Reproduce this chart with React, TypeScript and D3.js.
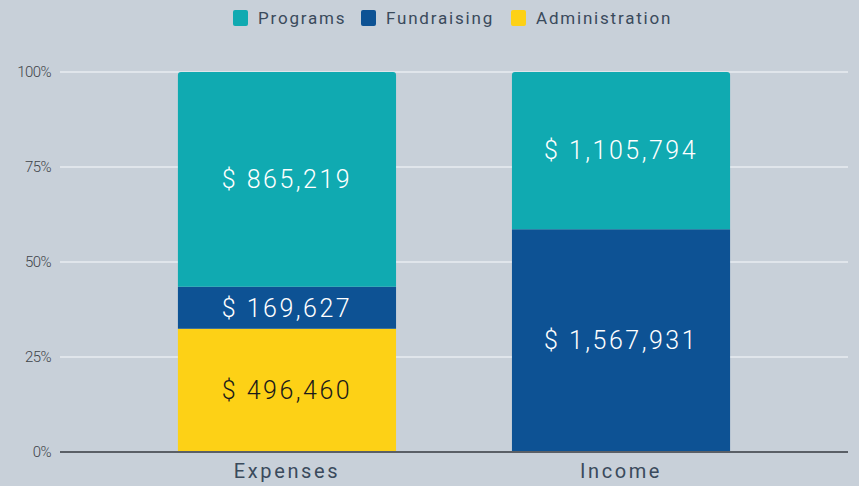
import React from "react";
import * as d3 from "d3";

const categories = ["Expenses", "Income"];
const seriesNames = ["Administration", "Fundraising", "Programs"];
const legendOrder = ["Programs", "Fundraising", "Administration"];
const administration = [496460, 0];
const fundraising = [169627, 1567931];
const programs = [865219, 1105794];
const yTicks = [0, 0.25, 0.5, 0.75, 1];

const colors: Record<string, string> = {
  Programs: "#10aab1",
  Fundraising: "#0d5294",
  Administration: "#fdd116",
};
const labelColors: Record<string, string> = {
  Programs: "#ffffff",
  Fundraising: "#ffffff",
  Administration: "#1a1a1a",
};

const W = 859;
const H = 486;
const M = { left: 60, right: 11, top: 72, bottom: 34 };
const FONT = "Roboto, 'DejaVu Sans', sans-serif";

export default function App() {
  const rows = categories.map((c, i) => ({
    category: c,
    Administration: administration[i],
    Fundraising: fundraising[i],
    Programs: programs[i],
  }));
  const stack = d3.stack<any>().keys(seriesNames).offset(d3.stackOffsetExpand);
  const series = stack(rows);

  const x = d3
    .scaleBand()
    .domain(categories)
    .range([M.left, W - M.right])
    .paddingInner(0.347)
    .paddingOuter(0.353);
  const y = d3.scaleLinear().domain([0, 1]).range([H - M.bottom, M.top]);
  const fmt = d3.format(",");

  const legendX: Record<string, number> = { Programs: 233, Fundraising: 361, Administration: 511 };

  return (
    <svg width={W} height={H} style={{ position: "absolute", left: 0, top: 0, background: "#c8d0d9" }}>
      <rect x={0} y={0} width={W} height={H} fill="#c8d0d9" />
      {/* legend */}
      {legendOrder.map((k) => (
        <g key={k}>
          <rect x={legendX[k]} y={10} width={15} height={16} rx={2} fill={colors[k]} />
          <text
            x={legendX[k] + 25}
            y={24}
            fontFamily={FONT}
            fontSize={17}
            fontWeight={400}
            letterSpacing={1.8}
            fill="#3a4a5c"
          >
            {k}
          </text>
        </g>
      ))}
      {/* gridlines + ticks */}
      {yTicks.map((t) => (
        <g key={t}>
          {t > 0 && (
            <line x1={M.left} x2={W - M.right} y1={y(t)} y2={y(t)} stroke="#e9edf1" strokeWidth={1.5} />
          )}
          <text
            x={51}
            y={y(t) + 5}
            textAnchor="end"
            fontFamily={FONT}
            fontSize={15}
            fontWeight={300}
            letterSpacing={-0.6}
            fill="#3f444a"
          >
            {d3.format(".0%")(t)}
          </text>
        </g>
      ))}
      {/* bars */}
      {series.map((s) => {
        const key = s.key;
        return s.map((d, i) => {
          const v = (d.data as any)[key];
          if (!v) return null;
          const x0 = x(categories[i])!;
          const yTop = y(d[1]);
          const yBot = y(d[0]);
          const isTop = d[1] >= 0.9999;
          const bw = x.bandwidth();
          const r = isTop ? 3 : 0;
          const path = `M${x0},${yBot} L${x0},${yTop + r} Q${x0},${yTop} ${x0 + r},${yTop} L${x0 + bw - r},${yTop} Q${x0 + bw},${yTop} ${x0 + bw},${yTop + r} L${x0 + bw},${yBot} Z`;
          return (
            <g key={key + i}>
              <path d={path} fill={colors[key]} />
              <text
                x={x0 + bw / 2}
                y={(yTop + yBot) / 2}
                dy="0.35em"
                textAnchor="middle"
                fontFamily={FONT}
                fontSize={25}
                fontWeight={300}
                letterSpacing={2.5}
                fill={labelColors[key]}
              >
                {"$ " + fmt(v)}
              </text>
            </g>
          );
        });
      })}
      {/* baseline */}
      <line x1={M.left} x2={W - M.right} y1={y(0)} y2={y(0)} stroke="#5a5f66" strokeWidth={2} />
      {/* category labels */}
      {categories.map((c) => (
        <text
          key={c}
          x={x(c)! + x.bandwidth() / 2}
          y={478}
          textAnchor="middle"
          fontFamily={FONT}
          fontSize={20}
          fontWeight={400}
          letterSpacing={2.6}
          fill="#3a4a5c"
        >
          {c}
        </text>
      ))}
    </svg>
  );
}
